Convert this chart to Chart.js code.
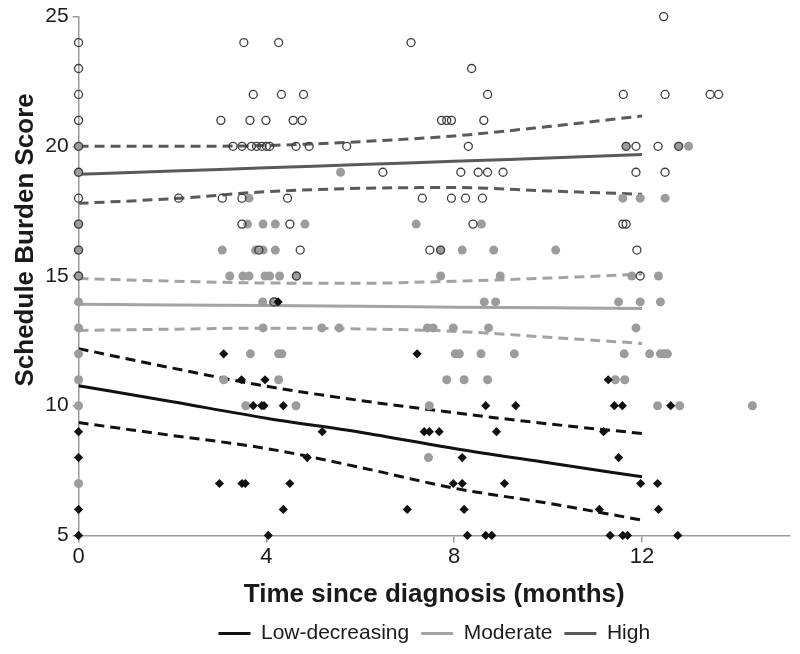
<!DOCTYPE html>
<html>
<head>
<meta charset="utf-8">
<script src="https://cdn.jsdelivr.net/npm/chart.js@4.4.1/dist/chart.umd.min.js"></script>
<style>
  html, body { margin: 0; padding: 0; background: #ffffff; }
  #wrap { width: 800px; height: 654px; }
</style>
</head>
<body>
<div id="wrap"><canvas id="c" width="800" height="654"></canvas></div>
<script>
// ---------- Data ----------
const xTickValues = [0, 4, 8, 12];
const yTickValues = [5, 10, 15, 20, 25];
const seriesNames = ["Low-decreasing", "Moderate", "High"];

// Individual observations: months since diagnosis and schedule burden score
const highMonths = [12.46,
  0, 3.52, 4.26, 7.08,
  0, 8.37,
  0, 3.72, 4.32, 4.79, 8.71, 11.6, 12.49, 13.45, 13.63,
  0, 3.03, 3.65, 3.99, 4.57, 4.76, 7.73, 7.84, 7.94, 8.63,
  0, 3.29, 3.48, 3.68, 3.79, 3.9, 4.0, 4.07, 4.63, 4.91, 5.71, 8.3, 11.66, 11.87, 12.34, 12.78,
  0, 6.48, 8.14, 8.51, 8.71, 9.04, 11.87, 12.49,
  0, 2.13, 3.06, 3.48, 4.45, 7.32, 7.94, 8.24, 8.6,
  0, 3.48, 4.5, 8.4, 11.59, 11.66,
  0, 3.84, 4.72, 7.48, 7.71, 11.89,
  0, 4.64, 11.96,
  4.16];
const highScores = [25,
  24, 24, 24, 24,
  23, 23,
  22, 22, 22, 22, 22, 22, 22, 22, 22,
  21, 21, 21, 21, 21, 21, 21, 21, 21, 21,
  20, 20, 20, 20, 20, 20, 20, 20, 20, 20, 20, 20, 20, 20, 20, 20,
  19, 19, 19, 19, 19, 19, 19, 19,
  18, 18, 18, 18, 18, 18, 18, 18, 18,
  17, 17, 17, 17, 17, 17,
  16, 16, 16, 16, 16, 16,
  15, 15, 15,
  14];

const moderateMonths = [0, 11.66, 12.78, 12.99,
  0, 5.58,
  3.63, 11.59, 11.96, 12.49,
  0, 3.6, 3.93, 4.19, 4.82, 7.19, 8.58,
  0, 3.06, 3.77, 3.93, 4.19, 7.71, 8.17, 8.84, 10.16,
  0, 3.22, 3.5, 3.63, 3.97, 4.07, 4.28, 4.64, 7.71, 8.98, 11.78, 12.35,
  0, 3.92, 4.16, 8.64, 8.88, 11.5, 11.96, 12.39,
  0, 3.93, 5.18, 5.55, 7.43, 7.55, 7.98, 8.73, 11.87,
  0, 3.66, 4.26, 4.33, 8.02, 8.11, 8.57, 9.28, 11.62, 12.16, 12.39, 12.47, 12.54,
  0, 3.09, 4.26, 7.84, 8.21, 8.71, 11.43, 11.63,
  0, 3.56, 4.63, 7.47, 12.33, 12.8, 14.35,
  7.45,
  0];
const moderateScores = [20, 20, 20, 20,
  19, 19,
  18, 18, 18, 18,
  17, 17, 17, 17, 17, 17, 17,
  16, 16, 16, 16, 16, 16, 16, 16, 16,
  15, 15, 15, 15, 15, 15, 15, 15, 15, 15, 15, 15,
  14, 14, 14, 14, 14, 14, 14, 14,
  13, 13, 13, 13, 13, 13, 13, 13, 13,
  12, 12, 12, 12, 12, 12, 12, 12, 12, 12, 12, 12, 12,
  11, 11, 11, 11, 11, 11, 11, 11,
  10, 10, 10, 10, 10, 10, 10,
  8,
  7];

const lowMonths = [4.25,
  3.09, 7.21,
  3.47, 3.97, 11.28,
  3.72, 3.9, 3.95, 4.36, 8.67, 9.31, 11.41, 11.58, 12.61,
  0, 5.19, 7.36, 7.47, 7.68, 8.9, 11.18,
  0, 4.87, 8.17, 11.5,
  3.0, 3.48, 3.55, 4.5, 7.98, 8.17, 9.07, 11.97, 12.33,
  0, 4.36, 7.0, 8.21, 11.09, 12.35,
  0, 4.04, 8.28, 8.67, 8.8, 11.32, 11.59, 11.69, 12.76];
const lowScores = [14,
  12, 12,
  11, 11, 11,
  10, 10, 10, 10, 10, 10, 10, 10, 10,
  9, 9, 9, 9, 9, 9, 9,
  8, 8, 8, 8,
  7, 7, 7, 7, 7, 7, 7, 7, 7,
  6, 6, 6, 6, 6, 6,
  5, 5, 5, 5, 5, 5, 5, 5, 5];

// Fitted trajectories and confidence bands
const fitMonths = [0, 2, 4, 6, 8, 10, 12];
const lowFit = [10.77, 10.15, 9.52, 8.98, 8.35, 7.8, 7.26];
const lowUpper = [12.2, 11.45, 10.75, 10.2, 9.73, 9.3, 8.93];
const lowLower = [9.35, 8.85, 8.35, 7.62, 6.82, 6.24, 5.59];
const moderateFit = [13.91, 13.88, 13.86, 13.83, 13.8, 13.78, 13.75];
const moderateUpper = [14.9, 14.8, 14.73, 14.72, 14.8, 14.92, 15.07];
const moderateLower = [12.9, 12.95, 12.99, 12.96, 12.87, 12.64, 12.4];
const highFit = [18.92, 19.05, 19.17, 19.3, 19.42, 19.55, 19.68];
const highUpper = [20.0, 20.0, 20.03, 20.18, 20.4, 20.76, 21.17];
const highLower = [17.8, 17.98, 18.25, 18.38, 18.41, 18.28, 18.15];

// ---------- Build chart ----------
const pairs = (xs, ys) => xs.map((x, i) => ({ x: x, y: ys[i] }));
const COL_LOW = "#111111", COL_MOD = "#a3a3a3", COL_HIGH = "#5a5a5a";
const FONT = "'Liberation Sans', Arial, Helvetica, sans-serif";

function fitLine(label, ys, color, dashed, showInLegend) {
  return {
    type: "line",
    label: label,
    data: pairs(fitMonths, ys),
    borderColor: color,
    backgroundColor: color,
    borderWidth: 3,
    borderDash: dashed ? [10, 6] : [],
    pointRadius: 0,
    pointHoverRadius: 0,
    fill: false,
    cubicInterpolationMode: "monotone",
    order: 10,
    inLegend: showInLegend
  };
}

const datasets = [
  fitLine(seriesNames[0], lowFit, COL_LOW, false, true),
  fitLine(seriesNames[1], moderateFit, COL_MOD, false, true),
  fitLine(seriesNames[2], highFit, COL_HIGH, false, true),
  fitLine("Low upper", lowUpper, COL_LOW, true, false),
  fitLine("Low lower", lowLower, COL_LOW, true, false),
  fitLine("Moderate upper", moderateUpper, COL_MOD, true, false),
  fitLine("Moderate lower", moderateLower, COL_MOD, true, false),
  fitLine("High upper", highUpper, COL_HIGH, true, false),
  fitLine("High lower", highLower, COL_HIGH, true, false),
  {
    type: "scatter", label: "Moderate points", data: pairs(moderateMonths, moderateScores),
    pointStyle: "circle", pointRadius: 4.5, pointBackgroundColor: "#9c9c9c",
    pointBorderColor: "#9c9c9c", pointBorderWidth: 0, order: 3, inLegend: false, clip: false
  },
  {
    type: "scatter", label: "High points", data: pairs(highMonths, highScores),
    pointStyle: "circle", pointRadius: 4, pointBackgroundColor: "rgba(255,255,255,0)",
    pointBorderColor: "#3c3c3c", pointBorderWidth: 1.3, order: 2, inLegend: false, clip: false
  },
  {
    type: "scatter", label: "Low points", data: pairs(lowMonths, lowScores),
    pointStyle: "rectRot", pointRadius: 4.6, pointBackgroundColor: "#111111",
    pointBorderColor: "#111111", pointBorderWidth: 0, order: 1, inLegend: false, clip: false
  }
];

// Centre the legend under the plot area (as in the reference figure)
const legendUnderPlot = {
  id: "legendUnderPlot",
  afterLayout(chart) {
    const lg = chart.legend, ca = chart.chartArea;
    if (!lg || !ca) return;
    const shift = ((ca.left + ca.right) - (lg.left + lg.right)) / 2;
    lg.left += shift;
    lg.right += shift;
  }
};

new Chart(document.getElementById("c"), {
  type: "scatter",
  data: { datasets: datasets },
  plugins: [legendUnderPlot],
  options: {
    responsive: false,
    animation: false,
    layout: { padding: { top: 12, right: 10, left: 10, bottom: 0 } },
    plugins: {
      tooltip: { enabled: false },
      legend: {
        position: "bottom",
        labels: {
          font: { family: FONT, size: 21 },
          color: "#1a1a1a",
          boxWidth: 32,
          boxHeight: 3,
          padding: 12,
          filter: (item, data) => data.datasets[item.datasetIndex].inLegend,
          generateLabels: (chart) => {
            const items = Chart.defaults.plugins.legend.labels.generateLabels(chart);
            items.forEach(it => {
              const ds = chart.data.datasets[it.datasetIndex];
              it.fillStyle = ds.borderColor;
              it.strokeStyle = ds.borderColor;
              it.lineWidth = 0;
              it.lineDash = [];
            });
            return items;
          }
        }
      }
    },
    scales: {
      x: {
        type: "linear",
        min: 0,
        max: 15.15,
        afterBuildTicks: (s) => { s.ticks = xTickValues.map(v => ({ value: v })); },
        ticks: { font: { family: FONT, size: 22 }, color: "#1a1a1a", padding: 1 },
        grid: { drawOnChartArea: false, drawTicks: true, tickLength: 7, color: "#9a9a9a", lineWidth: 1.5 },
        border: { color: "#9a9a9a", width: 1.5 },
        title: {
          display: true,
          text: "Time since diagnosis (months)",
          font: { family: FONT, size: 26, weight: "bold" },
          color: "#1a1a1a",
          padding: { top: 8, bottom: 1 }
        }
      },
      y: {
        type: "linear",
        min: 5,
        max: 25,
        afterBuildTicks: (s) => { s.ticks = yTickValues.map(v => ({ value: v })); },
        ticks: { font: { family: FONT, size: 21 }, color: "#1a1a1a", padding: 4 },
        grid: { drawOnChartArea: false, drawTicks: true, tickLength: 6, color: "#9a9a9a", lineWidth: 1.5 },
        border: { color: "#9a9a9a", width: 1.5 },
        title: {
          display: true,
          text: "\u00A0\u00A0\u00A0\u00A0\u00A0\u00A0\u00A0\u00A0\u00A0\u00A0Schedule Burden Score",
          font: { family: FONT, size: 26, weight: "bold" },
          color: "#1a1a1a",
          padding: { top: 0, bottom: 0 }
        }
      }
    }
  }
});
</script>
</body>
</html>
